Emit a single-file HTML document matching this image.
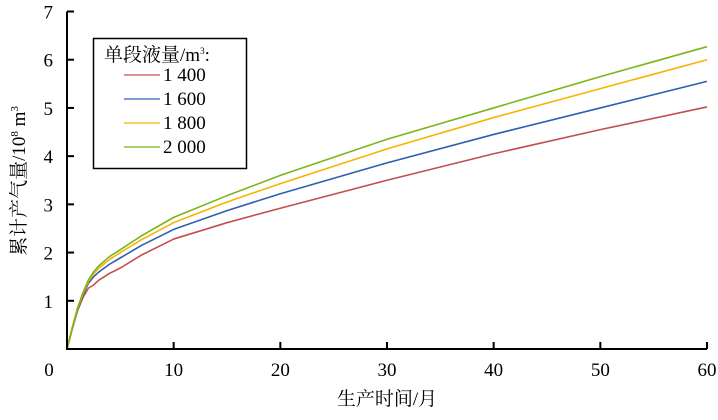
<!DOCTYPE html>
<html><head><meta charset="utf-8"><style>
body{margin:0;background:#fff}
svg text{font-family:"Liberation Serif","Noto Serif CJK SC",serif;fill:#000}
</style></head><body>
<svg width="718" height="415" viewBox="0 0 718 415">
<g id="plot"></g>
<g id="axes"></g>
<text x="387" y="405" font-size="19" text-anchor="middle">生产时间/月</text>
<text transform="translate(25,181) rotate(-90)" font-size="19" text-anchor="middle">累计产气量/10<tspan font-size="11" dy="-7">8</tspan><tspan dy="7"> m</tspan><tspan font-size="11" dy="-7">3</tspan></text>
<g>
<rect x="93.5" y="38.5" width="153" height="130" fill="#fff" stroke="#000" stroke-width="1.5"/>
<text x="104" y="61" font-size="19">单段液量/m<tspan font-size="9" dy="-7">3</tspan><tspan dy="7">:</tspan></text>
<g id="leg"></g>
</g>
</svg>
<script>
const months=[0,0.5,1,1.5,2,2.5,3,4,5,7,10,15,20,30,40,50,60];
const labels=["1 400","1 600","1 800","2 000"];
const colors=["#c0504d","#2e5fb0","#f5b400","#7cb518"];
const s1400=[0,0.42,0.8,1.07,1.26,1.33,1.43,1.57,1.68,1.95,2.28,2.62,2.92,3.5,4.05,4.55,5.02];
const s1600=[0,0.43,0.82,1.12,1.36,1.5,1.6,1.76,1.89,2.15,2.48,2.87,3.22,3.86,4.45,5.0,5.55];
const s1800=[0,0.44,0.84,1.15,1.4,1.56,1.68,1.86,2.0,2.27,2.62,3.05,3.43,4.15,4.8,5.4,6.0];
const s2000=[0,0.45,0.86,1.17,1.43,1.6,1.73,1.92,2.06,2.35,2.73,3.18,3.6,4.35,5.0,5.65,6.27];
const series=[s1400,s1600,s1800,s2000];
const xTicks=[0,10,20,30,40,50,60];
const yTicks=[0,1,2,3,4,5,6,7];
const X0=67,X1=707,Y0=349,Y1=11.5;
const sx=v=>X0+(v-0)/(60-0)*(X1-X0);
const sy=v=>Y0-(v-0)/(7-0)*(Y0-Y1);
const NS="http://www.w3.org/2000/svg";
const plot=document.getElementById('plot'),axes=document.getElementById('axes'),leg=document.getElementById('leg');
function mk(tag,attrs,parent){const e=document.createElementNS(NS,tag);for(const k in attrs)e.setAttribute(k,attrs[k]);parent.appendChild(e);return e;}
series.forEach((s,i)=>{
 const p=mk('polyline',{points:s.map((v,j)=>sx(months[j])+','+sy(v)).join(' '),fill:'none',stroke:colors[i],'stroke-width':1.6,'stroke-linejoin':'round'},plot);
 
 
 const ly=81+i*24;
 const l=mk('line',{x1:124,x2:160,y1:ly-6,y2:ly-6,stroke:colors[i],'stroke-width':1.3},leg);
 
 
 const t=mk('text',{x:163,y:ly,'font-size':19},leg);t.textContent=labels[i];
 
 
});
const ax=mk('path',{d:`M${X0},${Y1}V${Y0}H${X1}`,fill:'none',stroke:'#000','stroke-width':2},axes);


xTicks.forEach(v=>{
 const tk=mk('line',{x1:sx(v),x2:sx(v),y1:Y0,y2:Y0-7,stroke:'#000','stroke-width':2},axes);
 
 
 const t=mk('text',{x:sx(v)-(v==0?18:0),y:376,'font-size':19,'text-anchor':'middle'},axes);t.textContent=v;
 
 
});
yTicks.forEach(v=>{
 const tk=mk('line',{x1:X0,x2:X0+7,y1:sy(v),y2:sy(v),stroke:'#000','stroke-width':2},axes);
 
 
 if(v==0)return;
 const t=mk('text',{x:53,y:sy(v)+7,'font-size':19,'text-anchor':'end'},axes);t.textContent=v;
 
 
});
</script>
</body></html>
